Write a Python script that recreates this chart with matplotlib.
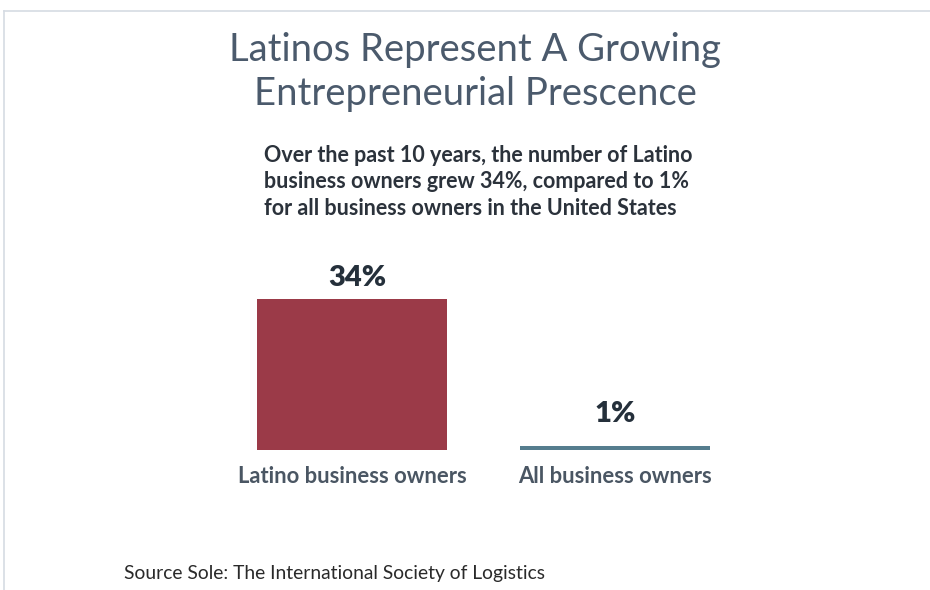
import matplotlib
matplotlib.use("Agg")
import matplotlib.pyplot as plt
from matplotlib.lines import Line2D

categories = ["Latino business owners", "All business owners"]
values = [34, 1]
value_labels = ["34%", "1%"]
colors = ["#9b3a48", "#557d8e"]

title = "Latinos Represent A Growing\nEntrepreneurial Prescence"
subtitle = ("Over the past 10 years, the number of Latino\n"
            "business owners grew 34%, compared to 1%\n"
            "for all business owners in the United States")
source = "Source Sole: The International Society of Logistics"

plt.rcParams['font.family'] = ['Lato', 'DejaVu Sans']

W, H = 930, 590
fig = plt.figure(figsize=(W/100, H/100), dpi=100)
fig.patch.set_facecolor("white")

# frame lines
fig.add_artist(Line2D([4/W, 1], [1-11/H, 1-11/H], color="#d5dbe3", lw=1.2))
fig.add_artist(Line2D([4/W, 4/W], [1-11/H, 0], color="#d5dbe3", lw=1.2))

# axes geometry (pixels)
px_per_unit = 263.0
center0 = 352.0
ax_left, ax_right = 200.0, 770.0
base_y = 450.0
px_per_pct = 151.0 / 34.0
ax_h = 200.0
ax = fig.add_axes([ax_left/W, (H-base_y)/H, (ax_right-ax_left)/W, ax_h/H])
ax.set_xlim((ax_left-center0)/px_per_unit, (ax_right-center0)/px_per_unit)
ax.set_ylim(0, ax_h/px_per_pct)
ax.axis("off")

xs = list(range(len(categories)))
ax.bar(xs, values, width=190/px_per_unit, color=colors)
label_pads = [5.5, 13.5]  # points above bar top
label_dx = [4, 0]
for x, v, lab, pad, dx in zip(xs, values, value_labels, label_pads, label_dx):
    ax.annotate(lab, (x, v), xytext=(dx, pad), textcoords="offset points",
                ha="center", va="bottom", fontsize=21,
                fontweight="heavy", color="#25303b")

for x, c in zip(xs, categories):
    ax.text(x, -3.7, c, ha="center", va="top", fontsize=15.8,
            fontweight="bold", color="#4a5663")

fig.text(475/W, 1-72/H, title, ha="center", va="center", fontsize=27.5,
         color="#4b5a6c", linespacing=1.27)
fig.text(264/W, 1-182/H, subtitle, ha="left", va="center", fontsize=15.5,
         fontweight="bold", color="#2b323b", linespacing=1.3)
fig.text(124/W, 1-573/H, source, ha="left", va="center", fontsize=13.85,
         color="#2a2a2a")

fig.savefig("out.png", dpi=100, facecolor="white")
